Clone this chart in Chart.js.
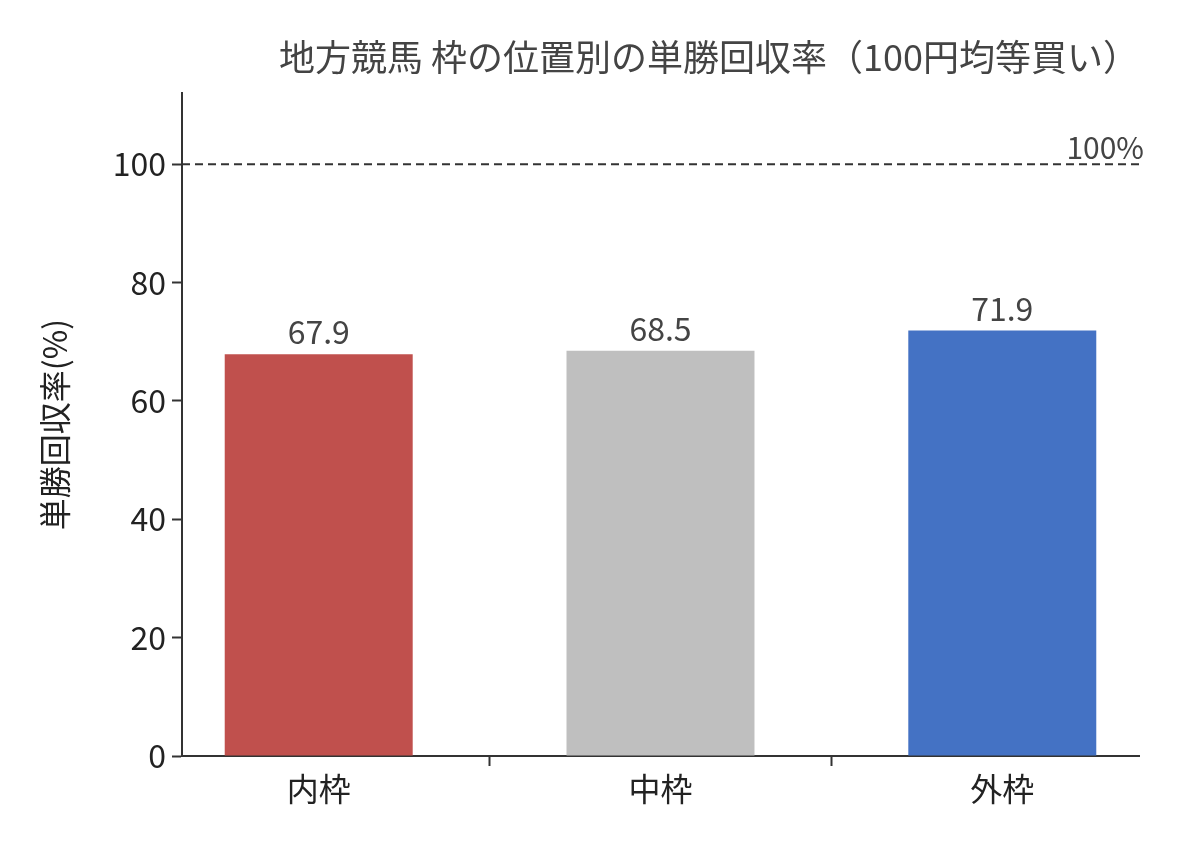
<!DOCTYPE html>
<html><head><meta charset="utf-8">
<script src="https://cdn.jsdelivr.net/npm/chart.js@4"></script>
<style>html,body{margin:0;background:#fff}#wrap{width:1188px;height:858px}</style>
</head><body><div id="wrap"><canvas id="c"></canvas></div>
<script>
const categories = ['内枠', '中枠', '外枠'];
const values = [67.9, 68.5, 71.9];
const barColors = ['#C0504D', '#BFBFBF', '#4472C4'];
const refValue = 100;
const font = "'Noto Sans CJK JP', 'Noto Sans', sans-serif";

const overlay = {
  id: 'overlay',
  afterDatasetsDraw(chart) {
    const { ctx, chartArea, scales } = chart;
    const y = scales.y.getPixelForValue(refValue);
    ctx.save();
    ctx.strokeStyle = '#333';
    ctx.lineWidth = 2;
    ctx.setLineDash([8, 5]);
    ctx.beginPath();
    ctx.moveTo(chartArea.left, y);
    ctx.lineTo(chartArea.right, y);
    ctx.stroke();
    ctx.setLineDash([]);
    ctx.fillStyle = '#444';
    ctx.font = '30px ' + font;
    ctx.textAlign = 'right';
    ctx.textBaseline = 'bottom';
    ctx.fillText(refValue + '%', chartArea.right + 5, y - 2);
    ctx.font = '32px ' + font;
    ctx.textAlign = 'center';
    chart.getDatasetMeta(0).data.forEach((bar, i) => {
      ctx.fillText(values[i].toFixed(1), bar.x, bar.y - 6);
    });
    ctx.restore();
  }
};

new Chart(document.getElementById('c'), {
  type: 'bar',
  data: { datasets: [{ data: values.map((v, i) => ({ x: i, y: v })), backgroundColor: barColors, barPercentage: 0.55, categoryPercentage: 1 }] },
  options: {
    responsive: true, maintainAspectRatio: false, animation: false,
    layout: { padding: { left: 36, right: 49, top: 0, bottom: 0 } },
    plugins: {
      legend: { display: false }, tooltip: { enabled: false },
      title: { display: true, text: '地方競馬 枠の位置別の単勝回収率（100円均等買い）', align: 'end', color: '#444',
        font: { family: font, size: 36, weight: 'normal' }, padding: { top: 36, bottom: 14 } }
    },
    scales: {
      x: {
        type: 'linear', min: -0.4, max: 2.4, offset: false,
        afterBuildTicks(s) { s.ticks = categories.map((c, i) => ({ value: i })); },
        grid: { drawOnChartArea: false, color: '#333', tickLength: 10, tickWidth: 2 },
        border: { color: '#333', width: 2 },
        ticks: { color: '#222', font: { family: font, size: 32 }, padding: 4, callback: v => categories[v] },
        afterFit(s) { s.height = 102; }
      },
      y: {
        min: 0, max: 112,
        afterBuildTicks(s) { s.ticks = [0, 20, 40, 60, 80, 100].map(v => ({ value: v })); },
        grid: { drawOnChartArea: false, color: '#333', tickLength: 10, tickWidth: 2 },
        border: { color: '#333', width: 2 },
        ticks: { color: '#222', font: { family: font, size: 32 }, padding: 6 },
        title: { display: true, text: '単勝回収率(%)', color: '#222', font: { family: font, size: 32 }, padding: 0 },
        afterFit(s) { s.width = 146; }
      }
    }
  },
  plugins: [overlay]
});
</script></body></html>
